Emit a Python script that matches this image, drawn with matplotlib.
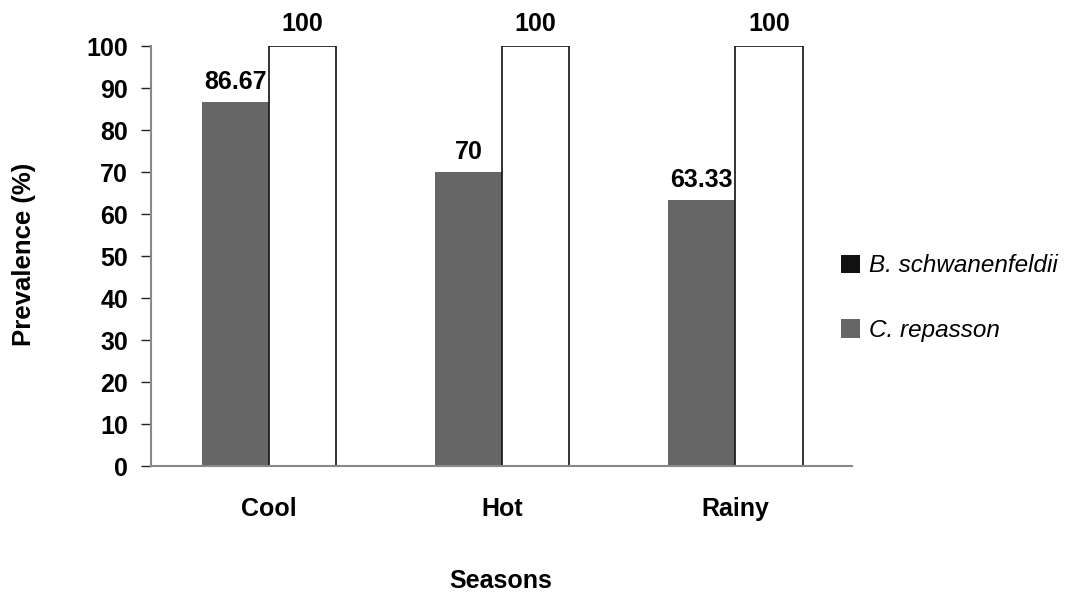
import matplotlib.pyplot as plt
from matplotlib.patches import Patch
import numpy as np

plt.rcParams['font.family'] = ['Liberation Sans', 'DejaVu Sans']

seasons = ["Cool", "Hot", "Rainy"]
grey_vals = [86.67, 70, 63.33]
white_vals = [100, 100, 100]
grey_labels = ["86.67", "70", "63.33"]
white_labels = ["100", "100", "100"]
legend_names = ["B. schwanenfeldii", "C. repasson"]

fs = 18

fig = plt.figure(figsize=(10.67, 5.96), dpi=100)
ax = fig.add_axes([151 / 1067, 1 - 466 / 596, 701 / 1067, 420 / 596])

x = np.arange(len(seasons))
w = 0.2885
b1 = ax.bar(x - w / 2, grey_vals, w, color="#666666", linewidth=0)
b2 = ax.bar(x + w / 2, white_vals, w, color="white", edgecolor="#111111", linewidth=1.2)

for rect, lab in zip(b1, grey_labels):
    ax.annotate(lab, (rect.get_x() + rect.get_width() / 2, rect.get_height()),
                xytext=(0, 6), textcoords="offset points", ha="center", va="bottom",
                fontsize=fs, fontweight="bold")
for rect, lab in zip(b2, white_labels):
    ax.annotate(lab, (rect.get_x() + rect.get_width() / 2, rect.get_height()),
                xytext=(0, 7), textcoords="offset points", ha="center", va="bottom",
                fontsize=fs, fontweight="bold")

ax.set_xlim(-0.505, 2.5)
ax.set_ylim(0, 100)
ax.set_yticks(range(0, 101, 10))
ax.set_xticks(x)
ax.set_xticklabels(seasons)
ax.tick_params(axis="y", length=7.5, width=1, color="#222222", pad=9, labelsize=fs)
ax.tick_params(axis="x", length=0, pad=22, labelsize=fs)
for t in ax.get_xticklabels() + ax.get_yticklabels():
    t.set_fontweight("bold")

for s in ["top", "right"]:
    ax.spines[s].set_visible(False)
for s in ["left", "bottom"]:
    ax.spines[s].set_color("#888888")
    ax.spines[s].set_linewidth(1.5)
ax.set_zorder(1)

fig.text(24 / 1067, 1 - 254 / 596, "Prevalence (%)", rotation=90, ha="center", va="center",
         fontsize=fs + 0.5, fontweight="bold")
fig.text(501 / 1067, 1 - 581 / 596, "Seasons", ha="center", va="center",
         fontsize=fs, fontweight="bold")

handles = [Patch(facecolor="#111111"), Patch(facecolor="#666666")]
fig.legend(handles, legend_names, loc="center left", bbox_to_anchor=(819 / 1067, 1 - 298 / 596),
           frameon=False, handlelength=0.8, handleheight=0.8, handletextpad=0.35,
           labelspacing=1.7, prop={"size": 17.5, "style": "italic"})

fig.savefig("out.png", dpi=100)
